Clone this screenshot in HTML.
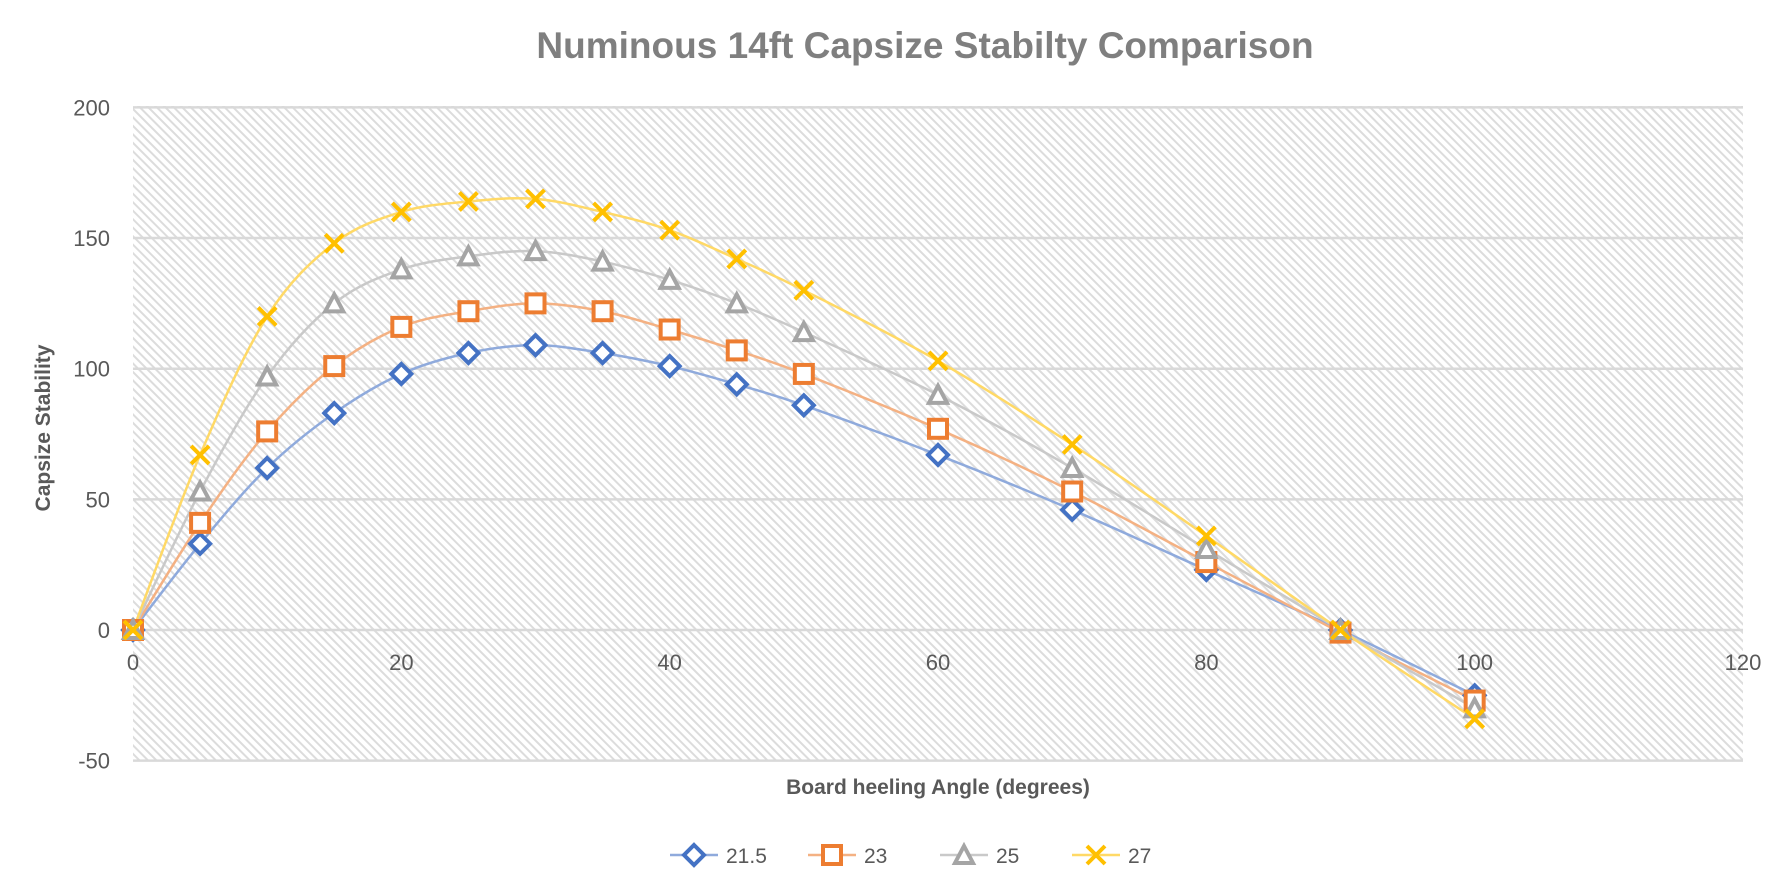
<!DOCTYPE html>
<html><head><meta charset="utf-8"><style>
html,body{margin:0;padding:0;background:#fff;}
svg{display:block;font-family:"Liberation Sans",Arial,sans-serif;}
</style></head><body>
<svg id="s" width="1788" height="882" viewBox="0 0 1788 882" xmlns="http://www.w3.org/2000/svg">
<defs>
<pattern id="h" width="6" height="6" patternUnits="userSpaceOnUse" patternTransform="rotate(45)">
<rect width="6" height="6" fill="#fff"/>
<rect x="0" y="0" width="6" height="2" fill="#dcdcdc"/>
</pattern>
</defs>
<rect x="133" y="106" width="1610" height="655" fill="url(#h)"/>
<g id="grid" stroke="#d9d9d9" stroke-width="2.5"></g>
<text x="925" y="58" text-anchor="middle" font-size="37" font-weight="bold" fill="#7f7f7f">Numinous 14ft Capsize Stabilty Comparison</text>
<text transform="translate(50,428) rotate(-90)" text-anchor="middle" font-size="21" font-weight="bold" fill="#595959">Capsize Stability</text>
<text x="938" y="794" text-anchor="middle" font-size="21" font-weight="bold" fill="#595959">Board heeling Angle (degrees)</text>
<g id="ticks" font-size="22" fill="#595959"></g>
<g id="series"></g>
<g id="legend" font-size="21" fill="#595959"></g>
</svg>
<script>
const X0=133,X1=1743,Y0=630,PU=2.613;
const sx=v=>X0+(X1-X0)*v/120, sy=v=>Y0-v*PU;
const NS="http://www.w3.org/2000/svg";
function el(t,a,p){const e=document.createElementNS(NS,t);for(const k in a)e.setAttribute(k,a[k]);if(p)p.appendChild(e);return e;}
const grid=document.getElementById('grid'),ticks=document.getElementById('ticks');
for(let v=-50;v<=200;v+=50){el('line',{x1:X0,x2:X1,y1:sy(v),y2:sy(v)},grid);
 const t=el('text',{x:110,y:sy(v)+8,'text-anchor':'end'},ticks);t.textContent=v;}
for(let v=0;v<=120;v+=20){const t=el('text',{x:sx(v),y:sy(0)+40,'text-anchor':'middle'},ticks);t.textContent=v;}
const xs=[0,5,10,15,20,25,30,35,40,45,50,60,70,80,90,100];
const S=[
 {n:'21.5',c:'#4472C4',l:'#8FAADC',m:'d',d:[0,33,62,83,98,106,109,106,101,94,86,67,46,23,0,-25]},
 {n:'23',c:'#ED7D31',l:'#F4B183',m:'s',d:[0,41,76,101,116,122,125,122,115,107,98,77,53,26,-1,-27]},
 {n:'25',c:'#A5A5A5',l:'#C9C9C9',m:'t',d:[0,53,97,125,138,143,145,141,134,125,114,90,62,31,0,-30]},
 {n:'27',c:'#FFC000',l:'#FFD966',m:'x',d:[0,67,120,148,160,164,165,160,153,142,130,103,71,36,0,-34]}];
const g=document.getElementById('series');
function marker(m,x,y,c,p){
 if(m=='d')el('path',{d:`M${x} ${y-10}L${x+10} ${y}L${x} ${y+10}L${x-10} ${y}Z`,fill:'#fff',stroke:c,'stroke-width':4},p);
 if(m=='s')el('rect',{x:x-9,y:y-9,width:18,height:18,fill:'#fff',stroke:c,'stroke-width':4},p);
 if(m=='t')el('path',{d:`M${x} ${y-9}L${x+9} ${y+8}L${x-9} ${y+8}Z`,fill:'#fff',stroke:c,'stroke-width':4},p);
 if(m=='x')el('path',{d:`M${x-9} ${y-9}L${x+9} ${y+9}M${x+9} ${y-9}L${x-9} ${y+9}`,stroke:c,'stroke-width':4},p);
}
S.forEach(s=>{
 const P=xs.map((x,i)=>[sx(x),sy(s.d[i])]);
 let d=`M${P[0][0]} ${P[0][1]}`;
 for(let i=0;i<P.length-1;i++){const p0=P[Math.max(0,i-1)],p1=P[i],p2=P[i+1],p3=P[Math.min(P.length-1,i+2)];
  const k=6;d+=`C${p1[0]+(p2[0]-p0[0])/k} ${p1[1]+(p2[1]-p0[1])/k} ${p2[0]-(p3[0]-p1[0])/k} ${p2[1]-(p3[1]-p1[1])/k} ${p2[0]} ${p2[1]}`;}
 el('path',{d,fill:'none',stroke:s.l,'stroke-width':2.5},g);
});
S.forEach(s=>xs.forEach((x,i)=>marker(s.m,sx(x),sy(s.d[i]),s.c,g)));
const L=document.getElementById('legend');const lx=[670,808,940,1072];
S.forEach((s,i)=>{const x=lx[i],y=855;el('line',{x1:x,x2:x+48,y1:y,y2:y,stroke:s.l,'stroke-width':2.5},L);marker(s.m,x+24,y,s.c,L);
 const t=el('text',{x:x+56,y:y+8},L);t.textContent=s.n;});
</script>
</body></html>
